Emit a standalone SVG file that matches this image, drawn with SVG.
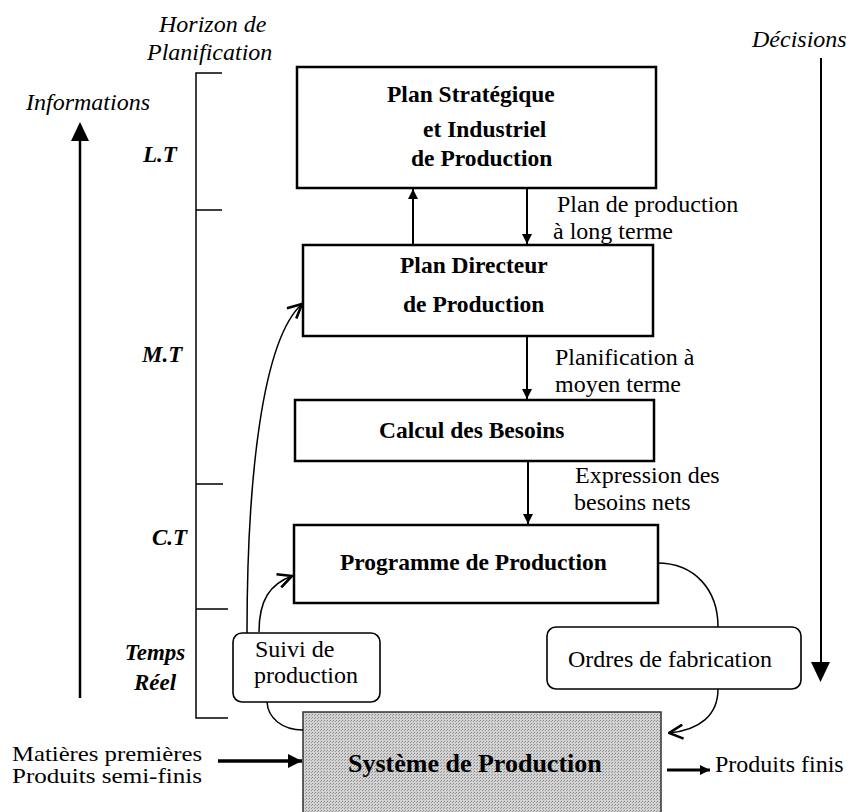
<svg xmlns="http://www.w3.org/2000/svg" width="852" height="812" viewBox="0 0 852 812">
<style>
text{font-family:"Liberation Serif","Times New Roman","DejaVu Serif",serif;fill:#000}
.b{font-weight:bold;font-size:23.5px}
.r{font-size:24px}
.i{font-style:italic;font-size:24px}
.bi{font-style:italic;font-weight:bold;font-size:23px}
.box{fill:#fff;stroke:#000;stroke-width:2.5}
.rbox{fill:#fff;stroke:#000;stroke-width:1.6}
.ln{fill:none;stroke:#000;stroke-width:2}
.thin{fill:none;stroke:#000;stroke-width:1.5}
</style>
<defs>
<marker id="tri" viewBox="0 0 10 10" refX="10" refY="5" markerWidth="10" markerHeight="10" markerUnits="userSpaceOnUse" orient="auto">
<path d="M0,0 L10,5 L0,10 Z" fill="#000"/>
</marker>
<marker id="vee" viewBox="0 0 16 16" refX="15" refY="8" markerWidth="16" markerHeight="16" markerUnits="userSpaceOnUse" orient="auto">
<path d="M1,1 L15,8 L1,15" fill="none" stroke="#000" stroke-width="2.6"/>
</marker>
<marker id="bigtri" viewBox="0 0 12 12" refX="12" refY="6" markerWidth="14" markerHeight="14" markerUnits="userSpaceOnUse" orient="auto">
<path d="M0,0 L12,6 L0,12 Z" fill="#000"/>
</marker>
<pattern id="dots" width="3" height="3" patternUnits="userSpaceOnUse">
<rect width="3" height="3" fill="#d2d2d2"/>
<rect width="1" height="1" fill="#8a8a8a"/>
<rect x="2" y="1" width="1" height="1" fill="#9a9a9a"/>
</pattern>
</defs>

<g id="axes">
<text class="i" x="159" y="32">Horizon de</text>
<text class="i" x="147" y="60">Planification</text>
<text class="i" x="26" y="110">Informations</text>
<text class="i" x="752" y="47">Décisions</text>
<line x1="80" y1="698" x2="80" y2="140" stroke="#000" stroke-width="2.5"/>
<path d="M71,141 L89,141 L80,122 Z" fill="#000"/>
<line x1="821" y1="58" x2="821" y2="663" stroke="#000" stroke-width="2"/>
<path d="M811,662 L830,662 L820.5,682 Z" fill="#000"/>
<path class="thin" d="M222,73 L196,73 L196,718 L228,718 M196,210 L222,210 M196,484 L223,484 M196,609 L228,609"/>
<text class="bi" x="143" y="162">L.T</text>
<text class="bi" x="142" y="362">M.T</text>
<text class="bi" x="152" y="545">C.T</text>
<text class="bi" x="155" y="660" text-anchor="middle">Temps</text>
<text class="bi" x="155" y="690" text-anchor="middle">Réel</text>
</g>

<g id="plan-strategique">
<rect class="box" x="297" y="67" width="359" height="121"/>
<text class="b" x="387" y="102">Plan Stratégique</text>
<text class="b" x="423" y="137">et Industriel</text>
<text class="b" x="411" y="166">de Production</text>
</g>

<g id="plan-directeur">
<rect class="box" x="303" y="245" width="350" height="91"/>
<text class="b" x="400" y="273">Plan Directeur</text>
<text class="b" x="403" y="312">de Production</text>
</g>

<g id="calcul-besoins">
<rect class="box" x="295" y="400" width="359" height="61"/>
<text class="b" x="379" y="438">Calcul des Besoins</text>
</g>

<g id="programme">
<rect class="box" x="294" y="525" width="364" height="78"/>
<text class="b" x="340" y="570">Programme de Production</text>
</g>

<g id="suivi">
<rect class="rbox" x="233" y="633" width="147" height="69" rx="9"/>
<text class="r" x="255" y="657">Suivi de</text>
<text class="r" x="254" y="683">production</text>
</g>

<g id="ordres">
<rect class="rbox" x="547" y="627" width="254" height="62" rx="9"/>
<text class="r" x="568" y="667">Ordres de fabrication</text>
</g>

<g id="systeme">
<rect x="303" y="712" width="358" height="104" fill="url(#dots)" stroke="#333" stroke-width="1.5"/>
<text x="348" y="772" style="font-weight:bold;font-size:26px">Système de Production</text>
</g>

<g id="labels">
<text class="r" x="557" y="212">Plan de production</text>
<text class="r" x="553" y="239">à long terme</text>
<text class="r" x="555" y="365">Planification à</text>
<text class="r" x="555" y="392">moyen terme</text>
<text class="r" x="575" y="483">Expression des</text>
<text class="r" x="574" y="510">besoins nets</text>
<text x="12" y="761" style="font-size:21px" textLength="190" lengthAdjust="spacingAndGlyphs">Matières premières</text>
<text x="12" y="783" style="font-size:21px" textLength="190" lengthAdjust="spacingAndGlyphs">Produits semi-finis</text>
<text class="r" x="715" y="772">Produits finis</text>
</g>

<g id="connectors">
<line class="ln" x1="413" y1="245" x2="413" y2="189" marker-end="url(#tri)"/>
<line class="ln" x1="527" y1="188" x2="527" y2="244" marker-end="url(#tri)"/>
<line class="ln" x1="527" y1="336" x2="527" y2="399" marker-end="url(#tri)"/>
<line class="ln" x1="528" y1="461" x2="528" y2="524" marker-end="url(#tri)"/>
<path class="thin" d="M247,633 C247,480 262,340 302,304" marker-end="url(#vee)"/>
<path class="thin" d="M259,632 C259,600 270,584 292,576" marker-end="url(#vee)"/>
<path class="thin" d="M267,702 C268,718 282,730 303,730"/>
<path class="thin" d="M657,563 C695,563 718,590 718,627"/>
<path class="thin" d="M718,689 C718,715 700,730 669,733" marker-end="url(#vee)"/>
<line x1="218" y1="761" x2="302" y2="761" stroke="#000" stroke-width="3.5" marker-end="url(#bigtri)"/>
<line x1="667" y1="770" x2="710" y2="770" stroke="#000" stroke-width="3" marker-end="url(#tri)"/>
</g>
</svg>
